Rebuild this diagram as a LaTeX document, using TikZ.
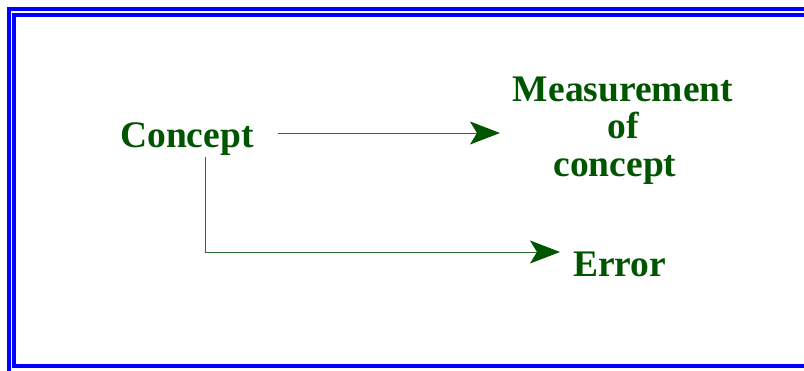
\documentclass[tikz,border=0pt]{standalone}
\usepackage{fontspec}
\setmainfont{Liberation Serif}
\usetikzlibrary{arrows.meta}
\definecolor{dgreen}{RGB}{0,85,0}
\definecolor{lgreen}{RGB}{40,110,40}
\definecolor{fblue}{RGB}{0,0,255}
\tikzset{
  lbl/.style={text=dgreen, font=\bfseries\fontsize{37.5}{37.5}\selectfont, inner sep=0pt},
  conn/.style={draw=lgreen, line width=1pt, -{Stealth[length=30pt,width=23pt,inset=7pt,color=dgreen]}},
  frame/.style={draw=fblue, line width=4pt, line join=miter}
}
\begin{document}
\begin{tikzpicture}[x=1pt,y=-1pt]
\useasboundingbox (0,0) rectangle (804,370);
\fill[white] (0,0) rectangle (804,370);
% frames
\draw[frame] (9,372) -- (9,9) -- (806,9);
\draw[frame] (806,15) -- (14,15) -- (14,366) -- (806,366);
% nodes
\node[lbl, anchor=base west] (concept) at (120,147) {Concept};
\node[lbl, anchor=base, align=center] (meas) at (623,176) {Measurement\\of\\concept\hspace*{16pt}};
\node[lbl, anchor=base west] (error) at (573,276) {Error};
\coordinate (a1s) at (278,133);
\coordinate (a1e) at (500,133);
\coordinate (b0) at (205,157);
\coordinate (b1) at (205,252);
\coordinate (b2) at (560,252);
\draw[conn] (a1s) -- (a1e);
\draw[conn] (b0) -- (b1) -- (b2);
\end{tikzpicture}
\end{document}
